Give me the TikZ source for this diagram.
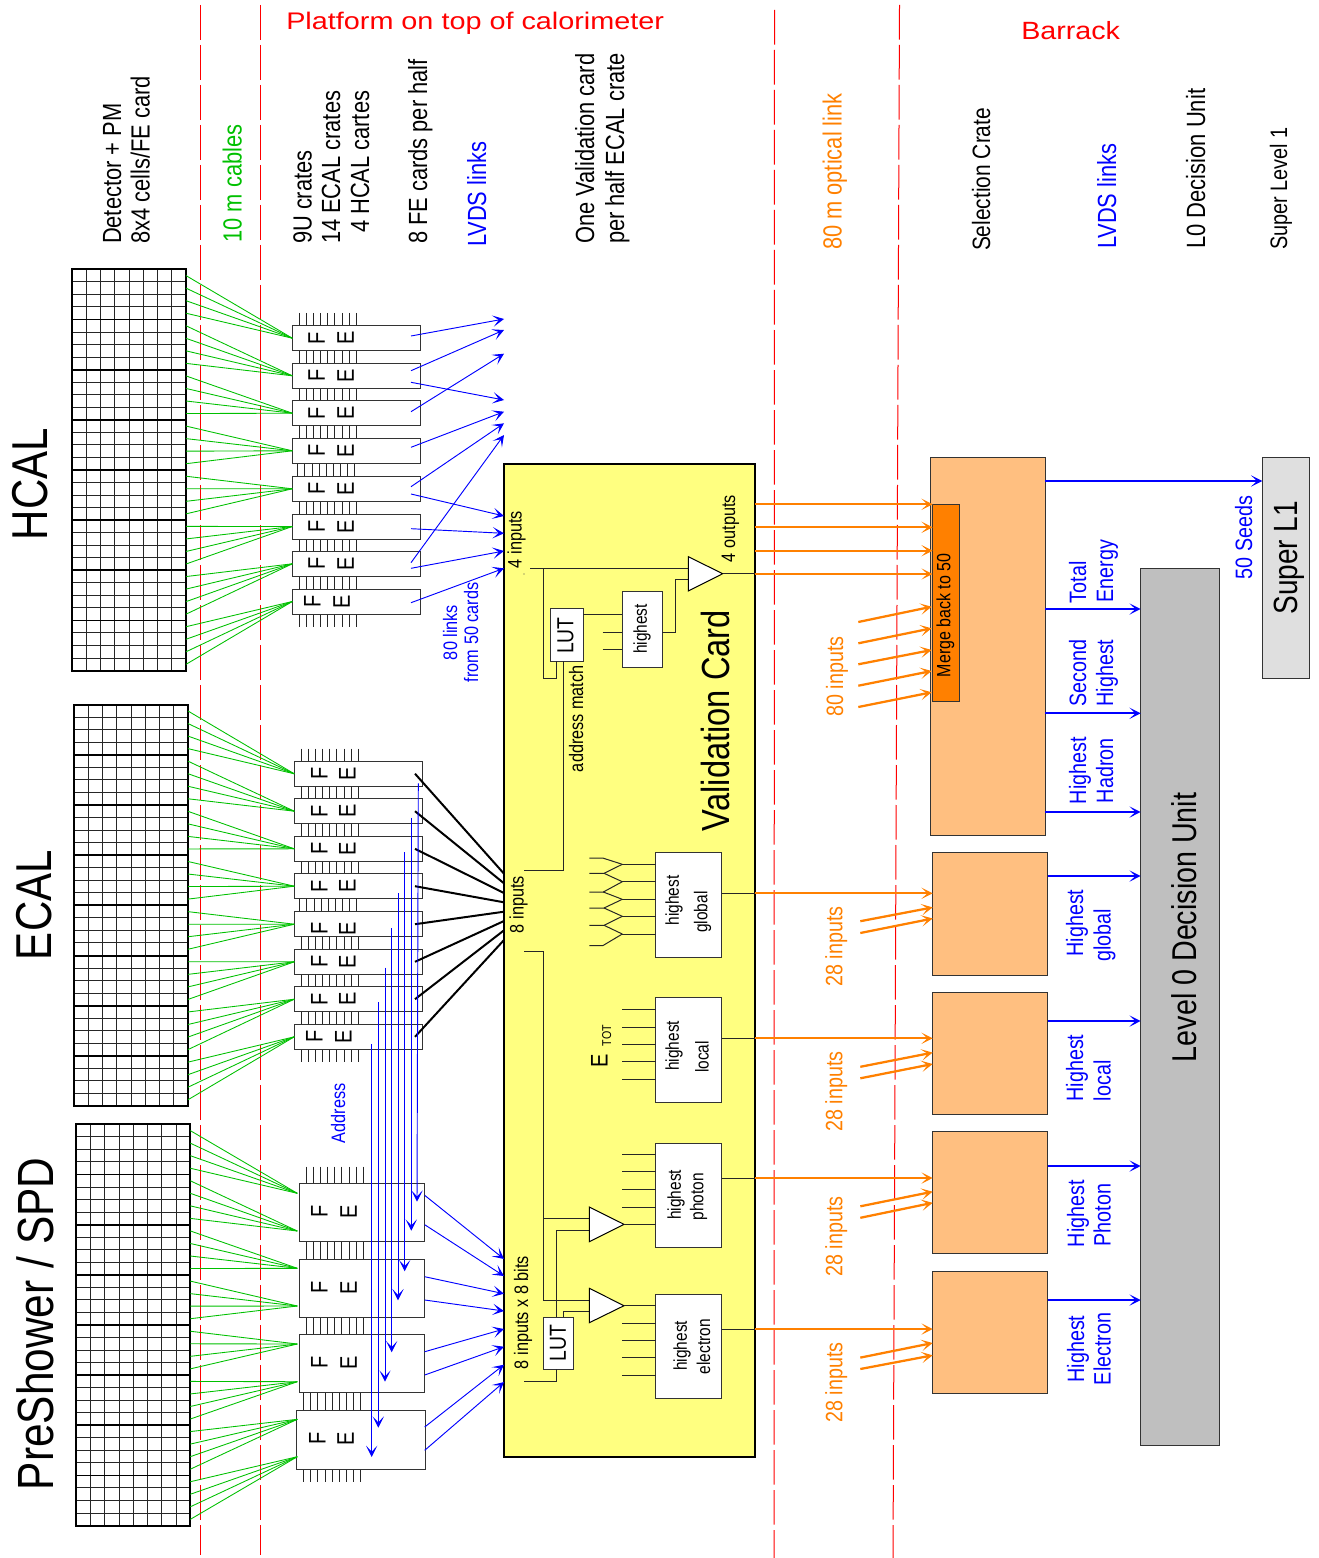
\documentclass[tikz,border=0pt]{standalone}
\usepackage{fontspec}
\usepackage{graphicx}
\setmainfont{Liberation Sans}
\usetikzlibrary{arrows.meta,calc}
\definecolor{cblue}{HTML}{0000FF}
\definecolor{cgreen}{HTML}{00C000}
\definecolor{corange}{HTML}{FF8000}
\definecolor{cred}{HTML}{FF0000}
\definecolor{cardfill}{HTML}{FFFF80}
\definecolor{crate}{HTML}{FFBF80}
\definecolor{lzero}{HTML}{BFBFBF}
\definecolor{slone}{HTML}{DFDFDF}
\tikzset{
  vlab/.style={rotate=90,anchor=base west,inner sep=0pt,outer sep=0pt},
  fa/.style={font=\fontsize{16.4}{18}\selectfont},
  fb/.style={font=\fontsize{14.8}{16}\selectfont},
  fc/.style={font=\fontsize{12.2}{14}\selectfont},
  fd/.style={font=\fontsize{11.6}{14}\selectfont},
  fbig/.style={font=\fontsize{31.5}{34}\selectfont},
  tb/.style={text=cblue}, tg/.style={text=cgreen}, to/.style={text=corange},
  rbox/.style={draw=black!80,line width=.75pt,inner sep=0pt,outer sep=0pt},
  febx/.style={rbox,fill=white},
  felet/.style={rotate=90,inner sep=0pt,outer sep=0pt,font=\fontsize{15}{17}\selectfont},
  pinln/.style={black!85,line width=.75pt},
  wire/.style={black!85,line width=.75pt},
  grn/.style={cgreen,line width=.65pt},
  redl/.style={cred,line width=.75pt,dash pattern=on 26 pt off 4pt},
  blthin/.style={cblue,line width=.7pt,-{Stealth[length=8.5pt,width=8.5pt,inset=4.5pt]}},
  blfull/.style={cblue,line width=1.7pt,-{Stealth[length=8.5pt,width=8.5pt,inset=4.5pt]}},
  orarr/.style={corange,line width=1.7pt,-{Stealth[length=8.5pt,width=8.5pt,inset=4.5pt]}},
  blk/.style={black,line width=1.5pt},
  tri/.style={draw=black,line width=.75pt,fill=white,line join=miter},
}
\newcommand\vt[5]{\node[vlab,#4] (#1) at (#2,#3) {\scalebox{1}[1.2]{#5}};}
\newcommand\ct[5]{\node[vlab,anchor=center,#4] (#1) at (#2,#3) {\scalebox{1}[1.2]{#5}};}
\newcommand\bx[6]{\node[#6,minimum width={(#4-#2)*0.75pt},minimum height={(#5-#3)*0.75pt}] (#1) at ({(#2+#4)/2},{(#3+#5)/2}) {};}
\newcommand\felab[4]{\node[felet] (#1F) at (#2,#4) {\scalebox{1}[1.2]{F}};\node[felet] (#1E) at (#3,#4) {\scalebox{1}[1.2]{E}};}
\newcommand\pinrow[3]{\foreach \i in {0,...,8}{\draw[pinln] ({#1+\i*7.12},#2) -- ({#1+\i*7.12},#3);}}
% #1 prefix, #2 x0, #3 y0, #4 target name prefix
\newcommand\calgrid[4]{%
  \foreach \i in {1,...,7}{\draw[black!85,line width=.75pt] ({#2+\i*14.25},#3) -- ({#2+\i*14.25},{#3+401.4});}
  \foreach \j in {1,...,31}{\draw[black!85,line width=.75pt] (#2,{#3+\j*12.54}) -- ({#2+114},{#3+\j*12.54});}
  \foreach \b in {0,...,7}{\node[draw=black,line width=1.4pt,inner sep=0pt,outer sep=0pt,minimum width=85.5pt,minimum height=37.63pt] (#1b\b) at ({#2+57},{#3+25.09+\b*50.17}) {};}
  \foreach \k in {0,...,31}{
    \pgfmathtruncatemacro\tgt{int(\k/4)+1}
    \coordinate (#1s\k) at ({#2+114},{#3+6.3+\k*12.54});
    \draw[grn] (#1s\k) -- (#4\tgt.west);
  }
}
\begin{document}
\begin{tikzpicture}[x=0.75pt,y=-0.75pt]
\useasboundingbox (0,0) rectangle (1319,1558);
% red separators
\coordinate (r1a) at (200.4,5); \coordinate (r1b) at (200.4,1555);
\coordinate (r2a) at (260,5); \coordinate (r2b) at (260,1555);
\coordinate (r3a) at (774.5,10); \coordinate (r3b) at (774,1558);
\coordinate (r4a) at (899.5,5); \coordinate (r4b) at (893,1558);
\foreach \n in {1,2,3,4}{\draw[redl] (r\n a) -- (r\n b);}
% heading texts
\node[anchor=base west,inner sep=0pt,text=cred,font=\fontsize{18}{20}\selectfont] (plat) at (286,29.3) {\scalebox{1.2}[1]{Platform on top of calorimeter}};
\node[anchor=base west,inner sep=0pt,text=cred,font=\fontsize{18.7}{21}\selectfont] (barr) at (1021,39.3) {\scalebox{1.15}[1]{Barrack}};
\vt{h1}{121}{244}{fa}{Detector + PM}
\vt{h2}{149.7}{244}{fa}{8x4 cells/FE card}
\vt{h3}{241.5}{242.5}{fa,tg}{10 m cables}
\vt{h4}{311.5}{244}{fa}{9U crates}
\vt{h5}{340}{244}{fa}{14 ECAL crates}
\vt{h6}{369}{233}{fa}{4 HCAL cartes}
\vt{h7}{427}{244}{fa}{8 FE cards per half}
\vt{h8}{486}{247}{fa,tb}{LVDS links}
\vt{h9}{594}{244}{fa}{One Validation card}
\vt{h10}{624}{244}{fa}{per half ECAL crate}
\vt{h11}{841.7}{250}{fa,to}{80 m optical link}
\vt{h12}{990}{251}{font=\fontsize{15.7}{18}\selectfont}{Selection Crate}
\vt{h13}{1116}{249}{fa,tb}{LVDS links}
\vt{h14}{1205}{249}{font=\fontsize{16.5}{18}\selectfont}{L0 Decision Unit}
\vt{h15}{1287}{250}{font=\fontsize{14.9}{16}\selectfont}{Super Level 1}
% big labels
\vt{hcal}{47}{540}{fbig}{HCAL}
\vt{ecal}{51}{960}{fbig}{ECAL}
\vt{psh}{53}{1490}{font=\fontsize{31.8}{34}\selectfont}{PreShower / SPD}
% FE pins
\foreach \s/\t/\u in {299.3/313/325.7,299.3/350.7/363.3,299.3/388.3/400.7,299.3/425.7/438.3,297.8/463.3/476.3,299.3/501.3/514,299.3/539/551.3,299.3/576.3/589,299.3/614/626.7}{\pinrow{\s}{\t}{\u}}
\foreach \s/\t/\u in {301.3/748.7/761.3,301.3/786.3/798.7,301.3/823.7/836.3,301.3/861.3/873.7,299.8/898.7/911.7,301.3/936.7/949.3,301.3/974.3/986.7,301.3/1011.7/1024.3,301.3/1049.3/1062}{\pinrow{\s}{\t}{\u}}
\foreach \s/\t/\u in {306.3/1166.7/1183.7,306.3/1241.7/1259.3,306.3/1317.3/1334.7,303.7/1392.7/1410.3,303.7/1469/1481.7}{\pinrow{\s}{\t}{\u}}
% FE cards HCAL
\foreach \n/\t in {1/325.7,2/363.3,3/400.7,4/438.3,5/476.3,6/514,7/551.3,8/589}{\bx{hfe\n}{292.3}{\t}{420.3}{\t+25}{febx}}
% FE cards ECAL
\foreach \n/\t in {1/761.3,2/798.7,3/836.3,4/873.7,5/911.7,6/949.3,7/986.7,8/1024.3}{\bx{efe\n}{294.3}{\t}{422.7}{\t+25}{febx}}
% FE cards PS
\bx{pfe1}{299.3}{1183.7}{424.7}{1241.7}{febx}
\bx{pfe2}{299.3}{1259.3}{424.7}{1317.3}{febx}
\bx{pfe3}{299.3}{1334.7}{424.7}{1392.7}{febx}
\bx{pfe4}{296.7}{1410.3}{425}{1469}{febx}
\foreach \n/\y in {1/1193.3,2/1231,3/1268.3,4/1306,5/1344,6/1381.7,7/1419.3,8/1456.7}{\coordinate (pt\n) at (297.3,\y);}
% letters
\foreach \n/\y in {1/338,2/375.6,3/413.2,4/450.8,5/488.8,6/526.5,7/563.8}{\felab{hl\n}{316.7}{345.7}{\y}}
\felab{hl8}{312.3}{341.7}{601.5}
\foreach \n/\y in {1/773.7,2/811.2,3/848.8,4/886.2,5/928.7,6/961.8,7/999.2}{\felab{el\n}{319.3}{347.3}{\y}}
\felab{el8}{314.3}{343.3}{1036.8}
\foreach \n/\y in {1/1211.7,2/1287.7,3/1362.7}{\felab{pl\n}{319.3}{348.7}{\y}}
\felab{pl4}{317.3}{345.7}{1438.7}
% calorimeter grids and cables
\calgrid{hg}{72}{269.3}{hfe}
\calgrid{eg}{74}{704.7}{efe}
\calgrid{pg}{76.3}{1124.3}{pt}
% validation card
\bx{card}{504}{464}{755}{1456.7}{draw=black,line width=1.5pt,fill=cardfill,inner sep=0pt,outer sep=0pt}
% HCAL LVDS
\foreach \n/\f/\ya/\yb in {1/1/336/319,2/2/370.7/330,3/2/382.3/400,4/3/411.7/353.7,5/4/447.3/411.7,6/5/486.7/423.3,7/5/494/516,8/6/528.7/533.3,9/7/562.7/435,10/7/568.3/551,11/8/602.7/568.3}{
  \coordinate (hla\n) at (411,\ya); \coordinate (hlb\n) at (504,\yb);
  \draw[blthin] (hla\n) -- (hlb\n);}
% ECAL black links
\foreach \n/\ya/\yb in {1/773.7/873.7,2/811.2/883.3,3/848.8/893,4/886.2/902.3,5/924.2/911.7,6/961.8/921,7/999.2/930.3,8/1036.8/940}{
  \coordinate (ela\n) at (415,\ya); \coordinate (elb\n) at (504,\yb);
  \draw[blk] (ela\n) -- (elb\n);}
% PS LVDS
\foreach \n/\ya/\yb in {1/1195.3/1259,2/1224.7/1276,3/1276.7/1293.7,4/1300/1311,5/1351.7/1329,6/1375/1346.7,7/1427/1364.7,8/1450.3/1382}{
  \coordinate (pla\n) at (424.7,\ya); \coordinate (plb\n) at (504,\yb);
  \draw[blthin] (pla\n) -- (plb\n);}
% address arrows
\foreach \n/\xa/\ya/\xb/\yb in {1/418.3/783.3/417/1201.7,2/411.3/817.7/411.3/1230.7,3/404.7/852.3/404.7/1271.3,4/398/893.3/398/1300.3,5/391.7/928.3/391.7/1352.3,6/385/967.7/385/1381.7,7/378.3/1002.3/378.3/1427.7,8/371.7/1044.3/371.7/1457}{
  \coordinate (ada\n) at (\xa,\ya); \coordinate (adb\n) at (\xb,\yb);
  \draw[blthin] (ada\n) -- (adb\n);}
% links labels
\vt{l80}{457}{660}{fc,tb}{80 links}
\vt{lfrom}{478}{682}{fc,tb}{from 50 cards}
\vt{laddr}{345}{1143}{fc,tb}{Address}
% --- inside card
\vt{c4in}{521.5}{568}{fc}{4 inputs}
\vt{c8in}{523.5}{933}{fc}{8 inputs}
\vt{c8b}{528}{1369}{fc}{8 inputs x 8 bits}
\vt{c4out}{735}{562}{fc}{4 outputs}
\vt{cam}{583}{772}{fc}{address match}
\vt{cvc}{729.5}{831}{font=\fontsize{24.5}{26}\selectfont}{Validation Card}
\fill[black!70] (524,574) circle (.7);
% LUT top
\bx{lut1}{550}{608.7}{583}{661}{rbox,fill=white}
\ct{lut1t}{565.5}{635.5}{font=\fontsize{14.5}{16}\selectfont}{LUT}
\bx{hi1}{622.3}{591.3}{662.3}{667}{rbox,fill=white}
\ct{hi1t}{642}{629}{fd}{highest}
\coordinate (t1a) at (688.3,556.7);\coordinate (t1b) at (688.3,591);\coordinate (t1c) at (722.7,573.7);
\coordinate (in4) at (530,568.3);
\coordinate (t1i) at (688.3,568.3);
\coordinate (br1) at (543.3,568.3);
\draw[wire] (in4) -- (t1i);
\draw[wire] (br1) -- (543.3,678.3) -- (556.7,678.3) -- (lut1.south -| 556.7,0);
\coordinate (am8) at (524,870);
\draw[wire] (am8) -- (563.3,870) -- (lut1.south -| 563.3,0);
\draw[wire] (lut1.east |- 0,614.3) -- (hi1.west |- 0,614.3);
\foreach \y in {632,649.3}{\draw[wire] (602.7,\y) -- (hi1.west |- 0,\y);}
\draw[wire] (hi1.east |- 0,632) -- (675.3,632) -- (675.3,579.7) -- (688.3,579.7);
\draw[tri] (t1a) -- (t1b) -- (t1c) -- cycle;
\draw[wire] (t1c) -- (card.east |- t1c);
% highest global
\bx{hg1}{655.7}{852.7}{721.7}{957}{rbox,fill=white}
\ct{hg1a}{674}{900.5}{fd}{highest}
\ct{hg1b}{702.5}{912}{fd}{global}
\foreach \y in {864.3,881.7,899.3,916.3,934}{\draw[wire] (622.3,\y) -- (hg1.west |- 0,\y);}
\draw[wire] (589.3,858) -- (602.7,858) -- (622.3,864.3);
\draw[wire] (589.3,873.3) -- (604,873.3) -- (622.3,864.3);
\draw[wire] (604,873.3) -- (622.3,881.7);
\draw[wire] (589.3,892) -- (603.3,892) -- (622.3,881.7);
\draw[wire] (603.3,892) -- (622.3,899.3);
\draw[wire] (589.3,908) -- (604,908) -- (622.3,899.3);
\draw[wire] (604,908) -- (622.3,916.3);
\draw[wire] (589.3,925.3) -- (604,925.3) -- (622.3,916.3);
\draw[wire] (604,925.3) -- (622.3,934);
\draw[wire] (589.3,945.7) -- (602.7,945.7) -- (622.3,934);
\draw[wire] (hg1.east |- 0,893.3) -- (card.east |- 0,893.3);
% highest local
\bx{hl1}{655.7}{997.7}{721.7}{1102.3}{rbox,fill=white}
\ct{hl1a}{674}{1045.8}{fd}{highest}
\ct{hl1b}{702}{1057}{fd}{local}
\foreach \y in {1009.7,1027,1044.3,1061.7,1079.3}{\draw[wire] (622.3,\y) -- (hl1.west |- 0,\y);}
\draw[wire] (hl1.east |- 0,1038.3) -- (card.east |- 0,1038.3);
\node[vlab,anchor=center,font=\fontsize{15}{17}\selectfont] (etE) at (599.3,1060.7) {\scalebox{1}[1.2]{E}};
\node[vlab,anchor=center,font=\fontsize{8}{10}\selectfont] (etT) at (606.7,1035.7) {\scalebox{1}[1.2]{TOT}};
% highest photon
\bx{hp1}{655.7}{1143.3}{721.7}{1247.3}{rbox,fill=white}
\ct{hp1a}{676}{1194.7}{fd}{highest}
\ct{hp1b}{698.5}{1196.7}{fd}{photon}
\foreach \y in {1154.3,1171.7,1189.3,1207}{\draw[wire] (622.3,\y) -- (hp1.west |- 0,\y);}
\draw[wire] (hp1.east |- 0,1178) -- (card.east |- 0,1178);
% highest electron
\bx{he1}{655.7}{1294.3}{721.7}{1398.3}{rbox,fill=white}
\ct{he1a}{682}{1345.7}{fd}{highest}
\ct{he1b}{703.5}{1346.7}{fd}{electron}
\foreach \y in {1323,1340.3,1357.7,1375.3}{\draw[wire] (622.3,\y) -- (he1.west |- 0,\y);}
\draw[wire] (he1.east |- 0,1329) -- (card.east |- 0,1329);
% lower wiring
\bx{lut2}{543.3}{1317.3}{573.3}{1369.3}{rbox,fill=white}
\ct{lut2t}{558}{1343}{font=\fontsize{14.5}{16}\selectfont}{LUT}
\coordinate (in8) at (524,951.3);
\coordinate (t2a) at (589.3,1207);\coordinate (t2b) at (589.3,1241.7);\coordinate (t2c) at (624,1224.3);
\coordinate (t3a) at (589.3,1288.3);\coordinate (t3b) at (589.3,1322.7);\coordinate (t3c) at (624,1305.7);
\draw[wire] (in8) -- (543.3,951.3) -- (543.3,1300) -- (589.3,1300);
\draw[wire] (543.3,1218.3) -- (589.3,1218.3);
\draw[wire] (lut2.north -| 556.7,0) -- (556.7,1230.3) -- (589.3,1230.3);
\draw[wire] (lut2.north -| 563.3,0) -- (563.3,1311.3) -- (589.3,1311.3);
\coordinate (in8b) at (524,1381);
\draw[wire] (in8b) -- (556.7,1381) -- (lut2.south -| 556.7,0);
\draw[tri] (t2a) -- (t2b) -- (t2c) -- cycle;
\draw[tri] (t3a) -- (t3b) -- (t3c) -- cycle;
\draw[wire] (t2c) -- (hp1.west |- t2c);
\draw[wire] (t3c) -- (he1.west |- t3c);
% --- selection crates
\bx{sc0}{930}{457.7}{1045}{835.3}{rbox,fill=crate}
\bx{sc1}{932.7}{852}{1047.5}{975}{rbox,fill=crate}
\bx{sc2}{932.7}{992}{1047.5}{1114}{rbox,fill=crate}
\bx{sc3}{932.7}{1131}{1047.5}{1253}{rbox,fill=crate}
\bx{sc4}{932.7}{1271}{1047.5}{1393}{rbox,fill=crate}
\bx{merge}{932.7}{504.3}{959.3}{701.7}{rbox,fill=corange}
\ct{merget}{945.5}{615.3}{font=\fontsize{12}{14}\selectfont}{Merge back to 50}
\bx{lz}{1140.7}{568}{1219.3}{1445}{rbox,fill=lzero}
\vt{lzt}{1196}{1062}{font=\fontsize{21.5}{24}\selectfont}{Level 0 Decision Unit}
\bx{sl}{1262.3}{457.7}{1309}{678.3}{rbox,fill=slone}
\vt{slt}{1297}{614.5}{font=\fontsize{21}{23}\selectfont}{Super L1}
% orange links
\foreach \y in {504.3,527.3,550.7,574}{\draw[orarr] (card.east |- 0,\y) -- (merge.west |- 0,\y);}
\foreach \n/\ya/\yb in {1/622/606.7,2/643.3/628.3,3/664.3/650,4/685.7/671,5/707/692.3}{
  \coordinate (oa\n) at (858.3,\ya); \coordinate (ob\n) at (931.7,\yb);
  \draw[orarr] (oa\n) -- (ob\n);}
\foreach \n/\c/\y/\ya/\yb/\yc/\yd in {1/sc1/893.3/921.2/907.4/933/918.5,2/sc2/1038.3/1066.8/1052.6/1078.3/1064,3/sc3/1178/1206.3/1191.7/1217.8/1202.8,4/sc4/1329/1357.6/1343/1369/1355.3}{
  \draw[orarr] (card.east |- 0,\y) -- (\c.west |- 0,\y);
  \coordinate (pa\n) at (860.3,\ya); \coordinate (pb\n) at (860.3,\yc);
  \draw[orarr] (pa\n) -- (\c.west |- 0,\yb);
  \draw[orarr] (pb\n) -- (\c.west |- 0,\yd);}
\vt{o80}{843}{716.5}{fb,to}{80 inputs}
\vt{o28a}{842.3}{986.5}{fb,to}{28 inputs}
\vt{o28b}{842.3}{1131.5}{fb,to}{28 inputs}
\vt{o28c}{842.3}{1276.5}{fb,to}{28 inputs}
\vt{o28d}{842.3}{1422.5}{fb,to}{28 inputs}
% blue outs
\draw[blfull] (sc0.east |- 0,481) -- (sl.west |- 0,481);
\foreach \y in {609,713.3,812}{\draw[blfull] (sc0.east |- 0,\y) -- (lz.west |- 0,\y);}
\draw[blfull] (sc1.east |- 0,876) -- (lz.west |- 0,876);
\draw[blfull] (sc2.east |- 0,1021) -- (lz.west |- 0,1021);
\draw[blfull] (sc3.east |- 0,1166) -- (lz.west |- 0,1166);
\draw[blfull] (sc4.east |- 0,1300) -- (lz.west |- 0,1300);
\vt{b50}{1252}{579}{fb,tb}{50 Seeds}
\vt{bT}{1086}{603}{fb,tb}{Total}
\vt{bE}{1113}{602.5}{fb,tb}{Energy}
\vt{bS}{1086}{706.5}{fb,tb}{Second}
\vt{bH}{1113}{706.5}{fb,tb}{Highest}
\vt{bHh}{1086}{804}{fb,tb}{Highest}
\vt{bHd}{1113}{803}{fb,tb}{Hadron}
\vt{b1a}{1083}{956.5}{fb,tb}{Highest}
\vt{b1b}{1110.5}{961.5}{fb,tb}{global}
\vt{b2a}{1083}{1101.5}{fb,tb}{Highest}
\vt{b2b}{1110.5}{1101}{fb,tb}{local}
\vt{b3a}{1084}{1247}{fb,tb}{Highest}
\vt{b3b}{1110.5}{1246.5}{fb,tb}{Photon}
\vt{b4a}{1084}{1382.5}{fb,tb}{Highest}
\vt{b4b}{1110.5}{1385}{fb,tb}{Electron}
\end{tikzpicture}
\end{document}
